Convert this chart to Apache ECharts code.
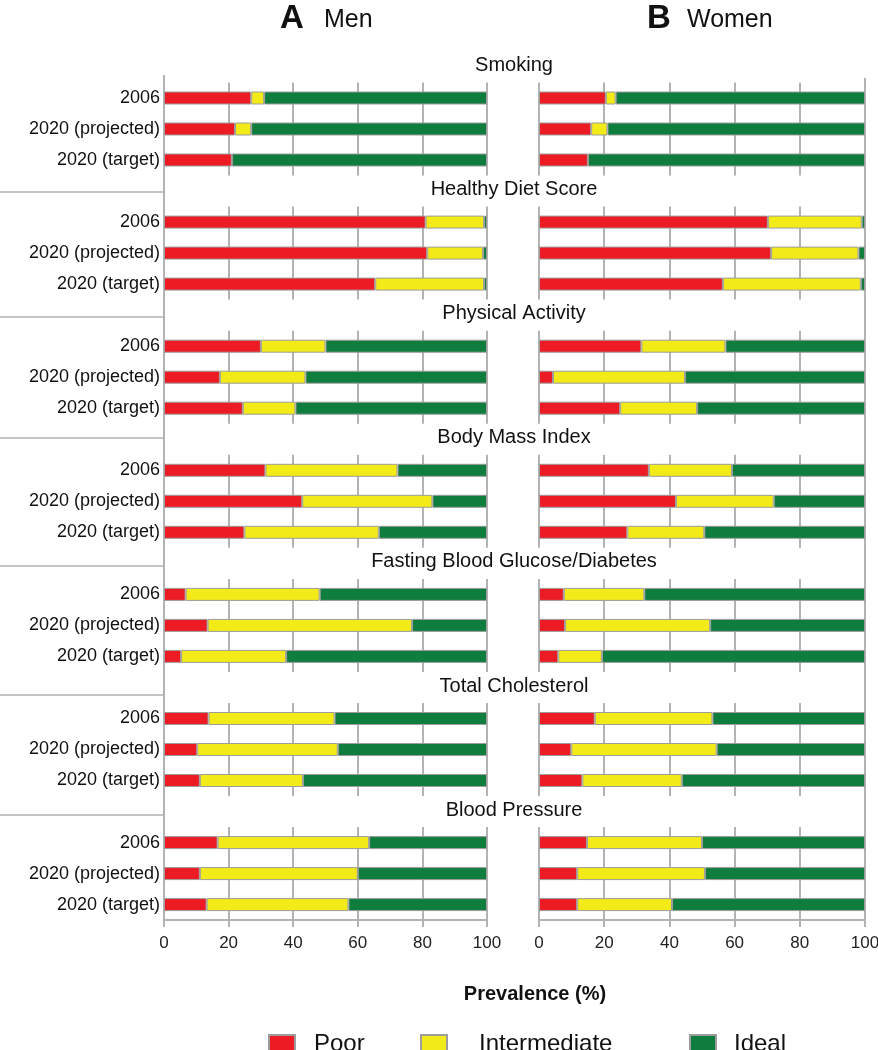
<!DOCTYPE html>
<html>
<head>
<meta charset="utf-8">
<script src="https://cdn.jsdelivr.net/npm/echarts@6/dist/echarts.min.js"></script>
<style>
html,body{margin:0;padding:0;background:#fff;}
#chart{width:878px;height:1050px;}
</style>
</head>
<body>
<div id="chart"></div>
<script>
// ---- data (prevalence %) ----
const factors = ['Smoking', 'Healthy Diet Score', 'Physical Activity', 'Body Mass Index',
  'Fasting Blood Glucose/Diabetes', 'Total Cholesterol', 'Blood Pressure'];
const years = ['2006', '2020 (projected)', '2020 (target)'];
const levels = ['Poor', 'Intermediate', 'Ideal'];
const xTicks = [0, 20, 40, 60, 80, 100];

const menPoor = [[27, 22, 21], [81, 81.5, 65.4], [30, 17.3, 24.4], [31.4, 42.8, 24.9],
  [6.7, 13.5, 5.3], [13.8, 10.3, 11.1], [16.6, 11.1, 13.2]];
const menIntermediate = [[4, 5, 0], [18.1, 17.3, 33.7], [20, 26.5, 16.3], [40.9, 40.3, 41.6],
  [41.5, 63.3, 32.5], [39, 43.5, 31.9], [46.9, 48.9, 43.9]];
const menIdeal = [[69, 73, 79], [0.9, 1.2, 0.9], [50, 56.2, 59.3], [27.7, 16.9, 33.5],
  [51.8, 23.2, 62.2], [47.2, 46.2, 57], [36.5, 40, 42.9]];

const womenPoor = [[20.5, 16, 15], [70.2, 71.2, 56.4], [31.4, 4.3, 24.9], [33.7, 42, 27.1],
  [7.6, 8, 5.9], [17.1, 9.9, 13.3], [14.7, 11.7, 11.7]];
const womenIntermediate = [[3, 5, 0], [28.8, 26.8, 42.3], [25.8, 40.5, 23.6], [25.5, 30, 23.6],
  [24.7, 44.5, 13.4], [36.1, 44.6, 30.5], [35.3, 39.2, 29.1]];
const womenIdeal = [[76.5, 79, 85], [1, 2, 1.3], [42.8, 55.2, 51.5], [40.8, 28, 49.3],
  [67.7, 47.5, 80.7], [46.8, 45.5, 56.2], [50, 49.1, 59.2]];

// ---- layout / style ----
const FONT = 'Liberation Sans, Arial, Helvetica, sans-serif';
const COLORS = { Poor: '#ED1C24', Intermediate: '#F3EB17', Ideal: '#0F7D3E' };
const GRID_COLOR = '#b3b3b3';
const TOP0 = 82.5, STEP = 124.1, GH = 93;
const panels = [
  { left: 164, width: 323, data: [menPoor, menIntermediate, menIdeal], labels: true },
  { left: 539, width: 326, data: [womenPoor, womenIntermediate, womenIdeal], labels: false }
];

const grid = [], xAxis = [], yAxis = [], series = [];
factors.forEach((f, g) => {
  const last = g === factors.length - 1;
  panels.forEach((p, pi) => {
    const idx = grid.length;
    grid.push({ left: p.left, width: p.width, top: TOP0 + g * STEP, height: GH,
      containLabel: false, outerBoundsMode: 'none' });
    xAxis.push({
      type: 'value', gridIndex: idx, min: xTicks[0], max: xTicks[xTicks.length - 1],
      interval: xTicks[1] - xTicks[0],
      axisLine: { show: last, onZero: false, lineStyle: { color: GRID_COLOR, width: 2 } },
      axisTick: { show: last, length: 7, lineStyle: { color: GRID_COLOR, width: 2 } },
      axisLabel: { show: last, fontSize: 17, color: '#222', margin: 15, fontFamily: FONT },
      splitLine: { show: true, lineStyle: { color: GRID_COLOR, width: 2 } }
    });
    yAxis.push({
      type: 'category', gridIndex: idx, data: years, inverse: true,
      axisLine: { show: false }, axisTick: { show: false }, splitLine: { show: false },
      axisLabel: { show: p.labels, fontSize: 18, color: '#111', margin: 4, fontFamily: FONT }
    });
    levels.forEach((lv, li) => {
      series.push({
        type: 'bar', name: lv, xAxisIndex: idx, yAxisIndex: idx, stack: 'st' + idx,
        data: p.data[li][g].map(v => v === 0 ? { value: 0, itemStyle: { borderWidth: 0 } } : v),
        barWidth: 13, silent: true,
        itemStyle: { color: COLORS[lv], borderColor: '#9c9c9c', borderWidth: 1 }
      });
    });
  });
});

// non-data decorations
const graphic = [];
const txt = (x, y, text, size, opts) => graphic.push({
  type: 'text', x, y, silent: true,
  style: { text, font: (opts && opts.bold ? 'bold ' : '') + size + 'px ' + FONT,
    fill: '#111', textVerticalAlign: 'middle', textAlign: (opts && opts.align) || 'left' }
});
txt(280, 19, 'A', 33, { bold: true });
txt(324, 20, 'Men', 25);
txt(647, 19, 'B', 33, { bold: true });
txt(687, 20, 'Women', 25);
factors.forEach((f, g) => txt(514, TOP0 + g * STEP - 17, f, 20, { align: 'center' }));
txt(535, 994, 'Prevalence (%)', 20, { bold: true, align: 'center' });
[192, 317, 438, 566, 695, 815].forEach(y => graphic.push({
  type: 'line', silent: true, shape: { x1: 0, y1: y, x2: 164, y2: y },
  style: { stroke: '#c4c4c4', lineWidth: 2 }
}));
const bottomY = TOP0 + (factors.length - 1) * STEP + GH;
graphic.push({ type: 'line', silent: true, shape: { x1: 164, y1: 75, x2: 164, y2: bottomY },
  style: { stroke: GRID_COLOR, lineWidth: 2 } });
graphic.push({ type: 'line', silent: true, shape: { x1: 865, y1: 78, x2: 865, y2: bottomY },
  style: { stroke: GRID_COLOR, lineWidth: 2 } });

const legendBase = { top: 1027, itemWidth: 26, itemHeight: 18, icon: 'rect', selectedMode: false };
const ltext = pad => ({ fontSize: 24, color: '#111', fontFamily: FONT, padding: [0, 0, 0, pad] });
const legend = [
  Object.assign({}, legendBase, { left: 263, data: ['Poor'], textStyle: ltext(14) }),
  Object.assign({}, legendBase, { left: 415, data: ['Intermediate'], textStyle: ltext(27) }),
  Object.assign({}, legendBase, { left: 684, data: ['Ideal'], textStyle: ltext(13) })
];

const chart = echarts.init(document.getElementById('chart'), null, { renderer: 'canvas', width: 878, height: 1050 });
chart.setOption({
  animation: false, backgroundColor: '#fff',
  textStyle: { fontFamily: FONT },
  grid, xAxis, yAxis, series, legend, graphic
});
</script>
</body>
</html>
